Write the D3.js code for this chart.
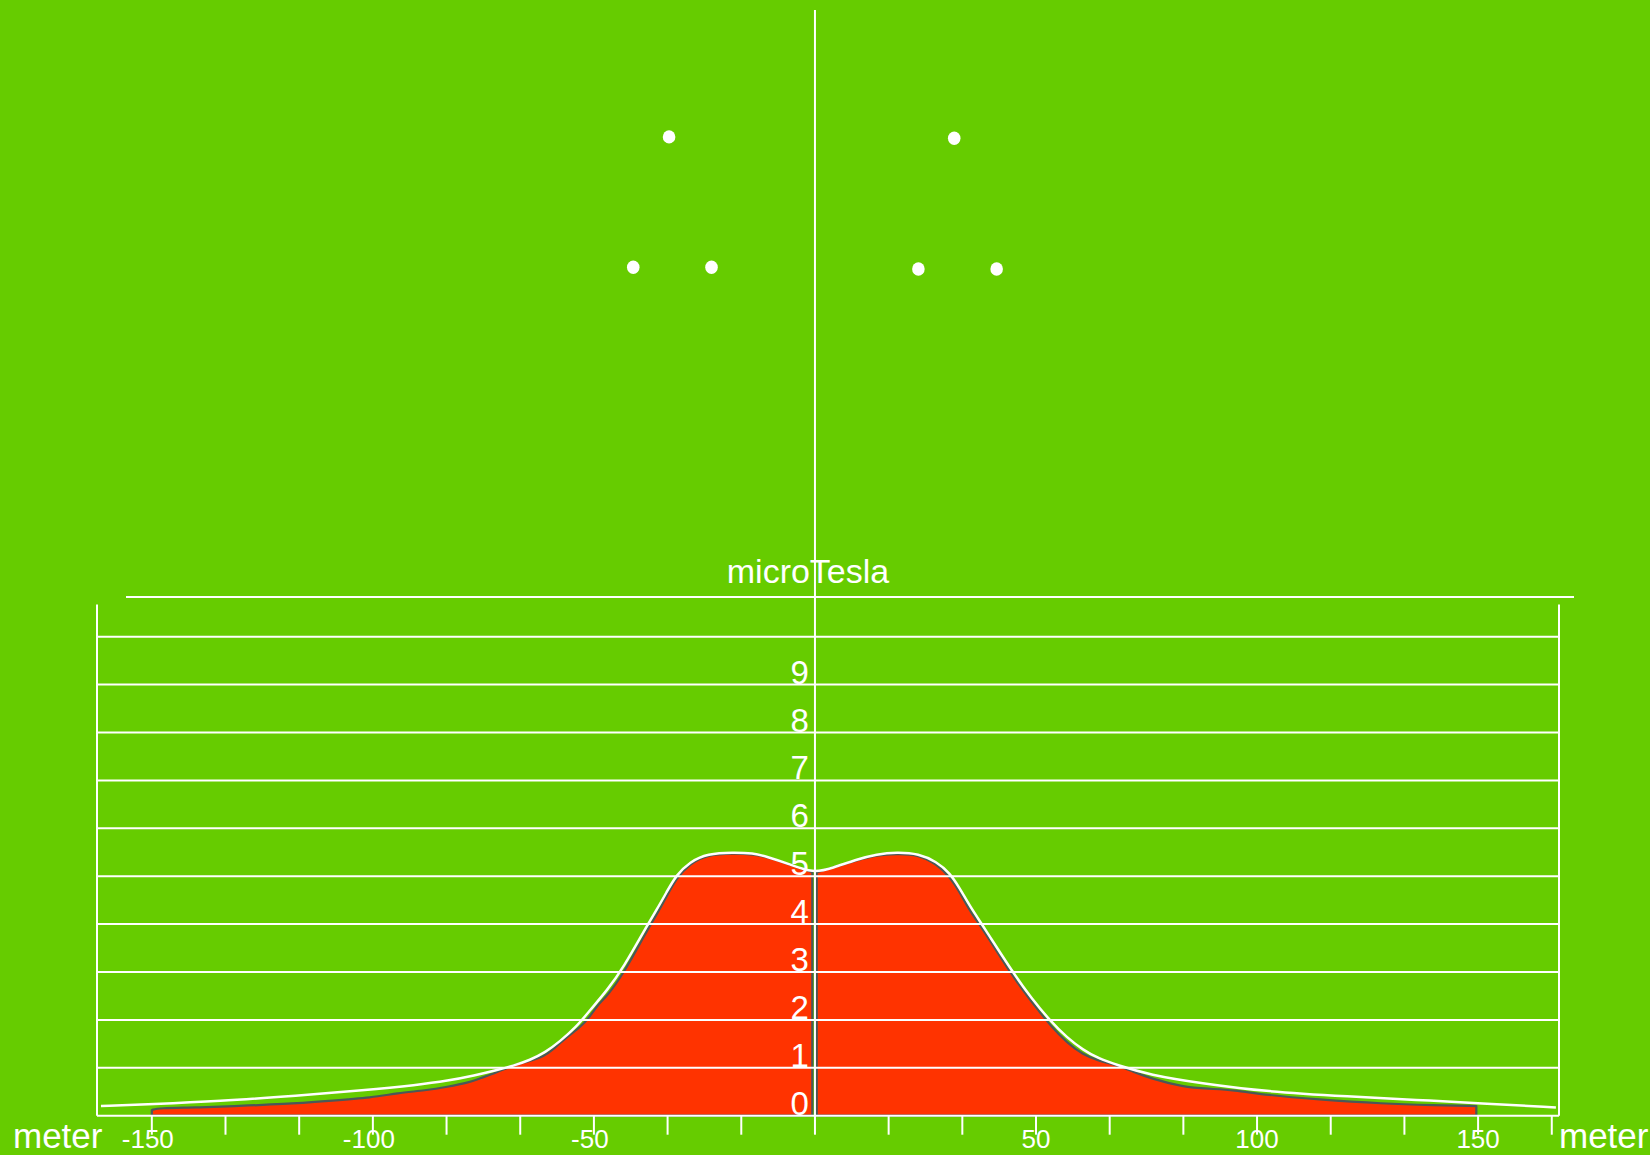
<!DOCTYPE html>
<html>
<head>
<meta charset="utf-8">
<script src="https://cdn.jsdelivr.net/npm/d3@7"></script>
<style>
  html, body { margin: 0; padding: 0; background: #66cc00; }
  svg { display: block; }
  text { font-family: "Liberation Sans", Arial, sans-serif; fill: #ffffff; }
</style>
</head>
<body>
<div id="chart"></div>
<script>
// conductor positions (meter offset, height in meter)
const condX = [-41.1, -33, -23.4, 23.4, 31.5, 41.1];
const condH = [74.6, 104.1, 74.6, 74.2, 103.8, 74.2];

// calculated field (white line)
const calcX = [-161.5, -150, -135, -117, -102, -90, -83, -77, -72, -68, -64.5, -61, -57.7, -54, -50.9, -47, -43.4, -38.1, -35.8, -33.6, -31.4, -28.3, -24.3, -18.5, -14, -10.9, -6, -0.4,
  4, 9.4, 14, 18.5, 23.5, 27.5, 30.5, 32.8, 35, 38.1, 44.9, 49, 53.2, 57, 60.7, 64, 68.3, 75.8, 87.1, 102.2, 121, 136.1, 150.5, 167.6];
const calcV = [0.20, 0.24, 0.30, 0.42, 0.53, 0.64, 0.73, 0.84, 0.95, 1.05, 1.16, 1.32, 1.55, 1.85, 2.2, 2.62, 3.08, 3.95, 4.3, 4.66, 5.02, 5.3, 5.47, 5.5, 5.48, 5.41, 5.26, 5.06,
  5.17, 5.35, 5.46, 5.5, 5.47, 5.3, 5.07, 4.74, 4.38, 3.95, 2.97, 2.45, 1.98, 1.63, 1.37, 1.2, 1.06, 0.85, 0.68, 0.50, 0.40, 0.33, 0.26, 0.17];

// measured field (red area), left and right of the centre line
const measLeftX = [-150, -148.5, -140, -132, -120, -110, -100, -94.6, -88, -83.3, -78, -75.8, -72, -68.3, -64, -61.5, -59, -57, -53, -50.9, -49, -47, -43.4, -38.1, -35.8, -33.6, -31.4, -28.3, -24.3, -18.5, -14, -10, -6, -1, -0.6];
const measLeftV = [0.12, 0.16, 0.17, 0.2, 0.24, 0.31, 0.38, 0.47, 0.53, 0.6, 0.7, 0.78, 0.9, 1.06, 1.15, 1.23, 1.4, 1.58, 1.85, 2.07, 2.33, 2.5, 2.95, 3.85, 4.2, 4.57, 4.95, 5.26, 5.45, 5.48, 5.46, 5.38, 5.25, 5.1, 5.08];
const measRightX = [0.4, 4, 9.4, 14, 18.5, 23.5, 27.5, 30.5, 32.8, 35, 38.1, 44.9, 49, 51, 53.2, 57, 60.7, 64, 68.3, 72, 75.8, 83.3, 89, 94.6, 102.2, 113.5, 128.6, 140, 149.6];
const measRightV = [5.08, 5.18, 5.33, 5.44, 5.47, 5.45, 5.25, 4.99, 4.66, 4.28, 3.88, 2.88, 2.38, 2.15, 1.89, 1.52, 1.27, 1.15, 1.06, 0.92, 0.78, 0.6, 0.56, 0.54, 0.43, 0.34, 0.25, 0.22, 0.2];

const yTicks = [0, 1, 2, 3, 4, 5, 6, 7, 8, 9];
const xTickLabels = [-150, -100, -50, 50, 100, 150];

const W = 1650, H = 1155;
const green = "#66cc00", red = "#ff3300", outline = "#4a5858";

const svg = d3.select("#chart").append("svg").attr("width", W).attr("height", H);
svg.append("rect").attr("width", W).attr("height", H).attr("fill", green);

const x = d3.scaleLinear().domain([-162.4, 168.3]).range([97, 1559]);
const y = d3.scaleLinear().domain([0, 10]).range([1115.7, 636.7]);
// upper panel, same meters per pixel as x
const h = d3.scaleLinear().domain([0, 100]).range([597, 155]);

const smooth = d3.curveBasis;
const measArea = d3.area().curve(smooth)
  .x(d => x(d[0])).y0(y(0)).y1(d => y(d[1]));

// red measured area
[[measLeftX, measLeftV], [measRightX, measRightV]].forEach(([xs, vs]) => {
  svg.append("path")
    .datum(xs.map((d, i) => [d, vs[i]]))
    .attr("fill", red)
    .attr("stroke", outline)
    .attr("stroke-width", 2.2)
    .attr("stroke-linejoin", "round")
    .attr("d", measArea);
});

// horizontal grid
svg.append("g")
  .selectAll("line")
  .data(d3.range(0, 11))
  .join("line")
  .attr("x1", x.range()[0]).attr("x2", x.range()[1])
  .attr("y1", d => y(d)).attr("y2", d => y(d))
  .attr("stroke", "#fff").attr("stroke-width", 2);

// frame sides
svg.append("g")
  .selectAll("line")
  .data(x.domain())
  .join("line")
  .attr("x1", d => x(d)).attr("x2", d => x(d))
  .attr("y1", y(10.67)).attr("y2", y(0))
  .attr("stroke", "#fff").attr("stroke-width", 2);

// x ticks every 50/3 m
const xTicks = d3.range(-9, 11).map(k => k * 50 / 3);
svg.append("g")
  .selectAll("line")
  .data(xTicks)
  .join("line")
  .attr("x1", d => x(d)).attr("x2", d => x(d))
  .attr("y1", y(0)).attr("y2", y(0) + 19)
  .attr("stroke", "#fff").attr("stroke-width", 2);

svg.append("g")
  .selectAll("text")
  .data(xTickLabels)
  .join("text")
  .attr("x", d => x(d) - (d < 0 ? 4 : 0)).attr("y", 1148)
  .attr("text-anchor", "middle")
  .attr("font-size", 26)
  .text(d => d);

// white calculated line
const calcData = calcX.map((d, i) => [d, calcV[i]]);
svg.append("path")
  .datum(calcData)
  .attr("fill", "none")
  .attr("stroke", "#fff")
  .attr("stroke-width", 2.5)
  .attr("d", d3.line().curve(smooth).x(d => x(d[0])).y(d => y(d[1])));

// upper ground line
svg.append("line")
  .attr("x1", 126).attr("x2", 1574)
  .attr("y1", h(0)).attr("y2", h(0))
  .attr("stroke", "#fff").attr("stroke-width", 2);

// centre line
svg.append("line")
  .attr("x1", x(0)).attr("x2", x(0))
  .attr("y1", 10).attr("y2", y(0))
  .attr("stroke", "#fff").attr("stroke-width", 2);

// conductors
svg.append("g")
  .selectAll("ellipse")
  .data(condX)
  .join("ellipse")
  .attr("cx", d => x(d))
  .attr("cy", (d, i) => h(condH[i]))
  .attr("rx", 6.3).attr("ry", 6.7)
  .attr("fill", "#fff");

// y labels
svg.append("g")
  .selectAll("text")
  .data(yTicks)
  .join("text")
  .attr("x", x(0) - 6).attr("y", d => y(d) - 1)
  .attr("text-anchor", "end")
  .attr("font-size", 33)
  .text(d => d);

svg.append("text")
  .attr("x", 808).attr("y", 583)
  .attr("text-anchor", "middle")
  .attr("font-size", 34)
  .text("microTesla");

svg.append("text")
  .attr("x", 13).attr("y", 1148)
  .attr("font-size", 35)
  .text("meter");

svg.append("text")
  .attr("x", 1559).attr("y", 1148)
  .attr("font-size", 35)
  .text("meter");
</script>
</body>
</html>
